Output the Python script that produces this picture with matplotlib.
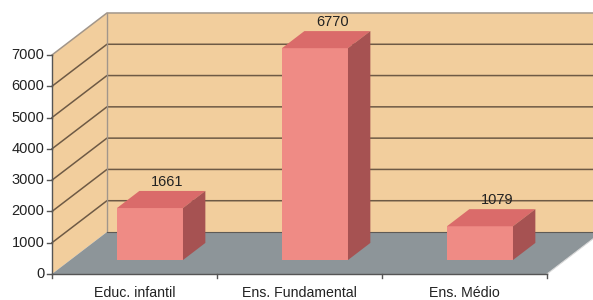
import numpy as np
import matplotlib.pyplot as plt

# data
categories = ['Educ. infantil', 'Ens. Fundamental', 'Ens. Médio']
values = [1661, 6770, 1079]
yticks = [0, 1000, 2000, 3000, 4000, 5000, 6000, 7000]

plt.rcParams['font.family'] = ['Liberation Sans', 'DejaVu Sans']

# fake 3d geometry (in data units)
DX = 0.333   # depth offset in category units
DY = 1342    # depth offset in value units
YMAX = 7000
n = len(categories)
bw = 0.4          # bar width
d1, d2 = 0.333, 0.74   # bar depth front/back (fraction of floor depth)

wall = '#F2CE9D'
floor = '#8D9599'
grid_c = '#6E5A45'
edge_c = '#A2968A'
front_c = '#EF8B85'
top_c = '#DA6B6A'
side_c = '#A65252'
txt_c = '#222222'

fig = plt.figure(figsize=(5.93, 3.0), dpi=100)
ax = fig.add_axes([0, 0, 1, 1])
ax.set_xlim(-52/165, (593-52)/165)
ax.set_ylim(-26/0.03129, 274/0.03129)
ax.axis('off')

# side wall + back wall
ax.fill([0, 0, DX, DX], [0, YMAX, YMAX+DY, DY], color=wall, lw=0, zorder=1)
ax.fill([DX, n+DX, n+DX, DX], [DY, DY, YMAX+DY, YMAX+DY], color=wall, lw=0, zorder=1)
# floor
ax.fill([0, n, n+DX, DX], [0, 0, DY, DY], color=floor, lw=0, zorder=2)

# gridlines
for v in yticks[1:]:
    c = edge_c if v == YMAX else grid_c
    ax.plot([0, DX, n+DX], [v, v+DY, v+DY], color=c, lw=1.1, zorder=2)
ax.plot([DX, DX], [DY, YMAX+DY], color=edge_c, lw=1, zorder=2)
ax.plot([DX, n+DX], [DY, DY], color='#5E5A55', lw=0.8, zorder=2)
ax.plot([n, n+DX], [0, DY], color='#D8D8D8', lw=0.8, zorder=2)

# axes
ax.plot([0, 0], [0, YMAX], color='#555555', lw=1, zorder=3)
ax.plot([0, n], [0, 0], color='#555555', lw=1, zorder=3)
for v in yticks:
    ax.plot([-0.03, 0], [v, v], color='#555555', lw=1, zorder=3)
    ax.text(-0.045, v, str(v), ha='right', va='center', fontsize=10.5, color=txt_c)
for i in range(n+1):
    ax.plot([i, i], [0, -120], color='#555555', lw=1, zorder=3)
for i, c in enumerate(categories):
    ax.text(i+0.5, -620, c, ha='center', va='center', fontsize=10.2, color=txt_c)

# bars
for i, v in enumerate(values):
    x0 = i + 0.5 - bw/2 + d1*DX - 0.017
    y0 = d1*DY
    ddx = (d2-d1)*DX
    ddy = (d2-d1)*DY
    ax.fill([x0, x0+bw, x0+bw, x0], [y0, y0, y0+v, y0+v], color=front_c, lw=0, zorder=4)
    ax.fill([x0, x0+bw, x0+bw+ddx, x0+ddx], [y0+v, y0+v, y0+v+ddy, y0+v+ddy],
            color=top_c, lw=0, zorder=4)
    ax.fill([x0+bw, x0+bw+ddx, x0+bw+ddx, x0+bw], [y0, y0+ddy, y0+v+ddy, y0+v],
            color=side_c, lw=0, zorder=4)
    ax.text(i+0.5+0.2, v+1295, str(v), ha='center', va='center', fontsize=10.5,
            color=txt_c, zorder=5)

plt.savefig('out.png', dpi=100)
